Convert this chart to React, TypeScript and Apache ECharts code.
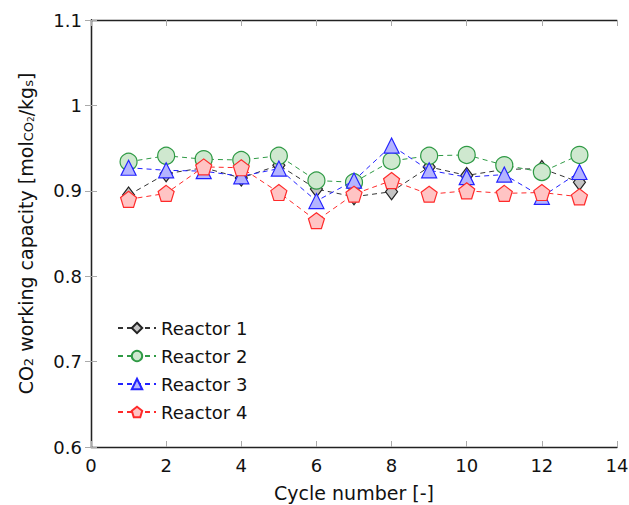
import React, { useEffect, useRef } from "react";
import * as echarts from "echarts";

const cycles = [1, 2, 3, 4, 5, 6, 7, 8, 9, 10, 11, 12, 13];
const reactor1 = [0.895, 0.92, 0.927, 0.915, 0.93, 0.902, 0.893, 0.899, 0.928, 0.918, 0.925, 0.926, 0.91];
const reactor2 = [0.934, 0.941, 0.937, 0.936, 0.941, 0.912, 0.91, 0.935, 0.941, 0.942, 0.93, 0.922, 0.942];
const reactor3 = [0.927, 0.924, 0.923, 0.917, 0.926, 0.888, 0.912, 0.953, 0.924, 0.916, 0.919, 0.893, 0.922];
const reactor4 = [0.89, 0.897, 0.928, 0.927, 0.898, 0.865, 0.896, 0.912, 0.896, 0.9, 0.897, 0.898, 0.893];
const seriesNames = ["Reactor 1", "Reactor 2", "Reactor 3", "Reactor 4"];

const FONT = "DejaVu Sans";
const FS = 18;
const NFS = 19;
const pentagon = "path://M0,-1 L0.951,-0.309 L0.588,0.809 L-0.588,0.809 L-0.951,-0.309 Z";

export default function App() {
  const ref = useRef<HTMLDivElement>(null);
  useEffect(() => {
    const chart = echarts.init(ref.current!, null, { renderer: "svg" });
    const pair = (vals: number[]) => cycles.map((c, i) => [c, vals[i]]);
    const mk = (name: string, vals: number[], line: string, fill: string, border: string, symbol: string, size: any, z: number) => ({
      name,
      type: "line",
      data: pair(vals),
      symbol,
      symbolSize: size,
      z,
      lineStyle: { color: line, width: 1, type: [5, 4] },
      itemStyle: { color: fill, borderColor: border, borderWidth: 1.2 },
      emphasis: { disabled: true },
    });
    const tickStyle = { show: true, inside: true, length: 6, lineStyle: { color: "#aaaaaa", width: 1 } };
    const axisLine = { show: true, lineStyle: { color: "#222222", width: 1.3 } };
    chart.setOption({
      animation: false,
      backgroundColor: "#ffffff",
      grid: { left: 91, right: 12, top: 20, bottom: 58, outerBoundsMode: "none", containLabel: false },
      legend: {
        data: seriesNames,
        orient: "vertical",
        left: 112,
        top: 314,
        itemWidth: 38,
        itemHeight: 13,
        itemGap: 10,
        textStyle: { fontFamily: FONT, fontSize: FS, color: "#111" },
      },
      xAxis: [
        {
          type: "value",
          min: 0,
          max: 14,
          interval: 2,
          name: "Cycle number [-]",
          nameLocation: "middle",
          nameGap: 36,
          nameTextStyle: { fontFamily: FONT, fontSize: NFS, color: "#111" },
          axisLine,
          axisTick: tickStyle,
          axisLabel: { fontFamily: FONT, fontSize: FS, color: "#111", margin: 9 },
          splitLine: { show: false },
        },
        {
          type: "value",
          position: "top",
          min: 0,
          max: 14,
          interval: 2,
          axisLine,
          axisTick: tickStyle,
          axisLabel: { show: false },
          splitLine: { show: false },
        },
      ],
      yAxis: [
        {
          type: "value",
          min: 0.6,
          max: 1.1,
          interval: 0.1,
          name: "{n|CO}{s|2}{n| working capacity [mol}{s|CO}{ss|2}{n|/kg}{s|s}{n|]}",
          nameLocation: "middle",
          nameGap: 56,
          nameTextStyle: {
            fontFamily: FONT,
            fontSize: NFS,
            color: "#111",
            rich: {
              n: { fontFamily: FONT, fontSize: NFS, color: "#111", verticalAlign: "bottom", lineHeight: 25 },
              s: { fontFamily: FONT, fontSize: 13, color: "#111", verticalAlign: "bottom", lineHeight: 16 },
              ss: { fontFamily: FONT, fontSize: 9, color: "#111", verticalAlign: "bottom", lineHeight: 11 },
            },
          },
          axisLine,
          axisTick: tickStyle,
          axisLabel: {
            fontFamily: FONT,
            fontSize: FS,
            color: "#111",
            margin: 9,
            formatter: (v: number) => String(Math.round(v * 10) / 10),
          },
          splitLine: { show: false },
        },
        {
          type: "value",
          position: "right",
          min: 0.6,
          max: 1.1,
          interval: 0.1,
          axisLine,
          axisTick: tickStyle,
          axisLabel: { show: false },
          splitLine: { show: false },
        },
      ],
      series: [
        mk("Reactor 1", reactor1, "#333333", "#c4c4c4", "#222222", "diamond", [12, 16], 2),
        mk("Reactor 2", reactor2, "#2f9a45", "#cfe8cf", "#2f9a45", "circle", 17, 3),
        mk("Reactor 3", reactor3, "#2222ff", "#b4b4ff", "#2222ff", "triangle", 15, 4),
        mk("Reactor 4", reactor4, "#ff2a2a", "#ffc4c4", "#ff2a2a", pentagon, 16, 5),
      ],
    });
    return () => chart.dispose();
  }, []);
  return <div ref={ref} style={{ width: 629, height: 505, position: "absolute", left: 0, top: 0 }} />;
}
